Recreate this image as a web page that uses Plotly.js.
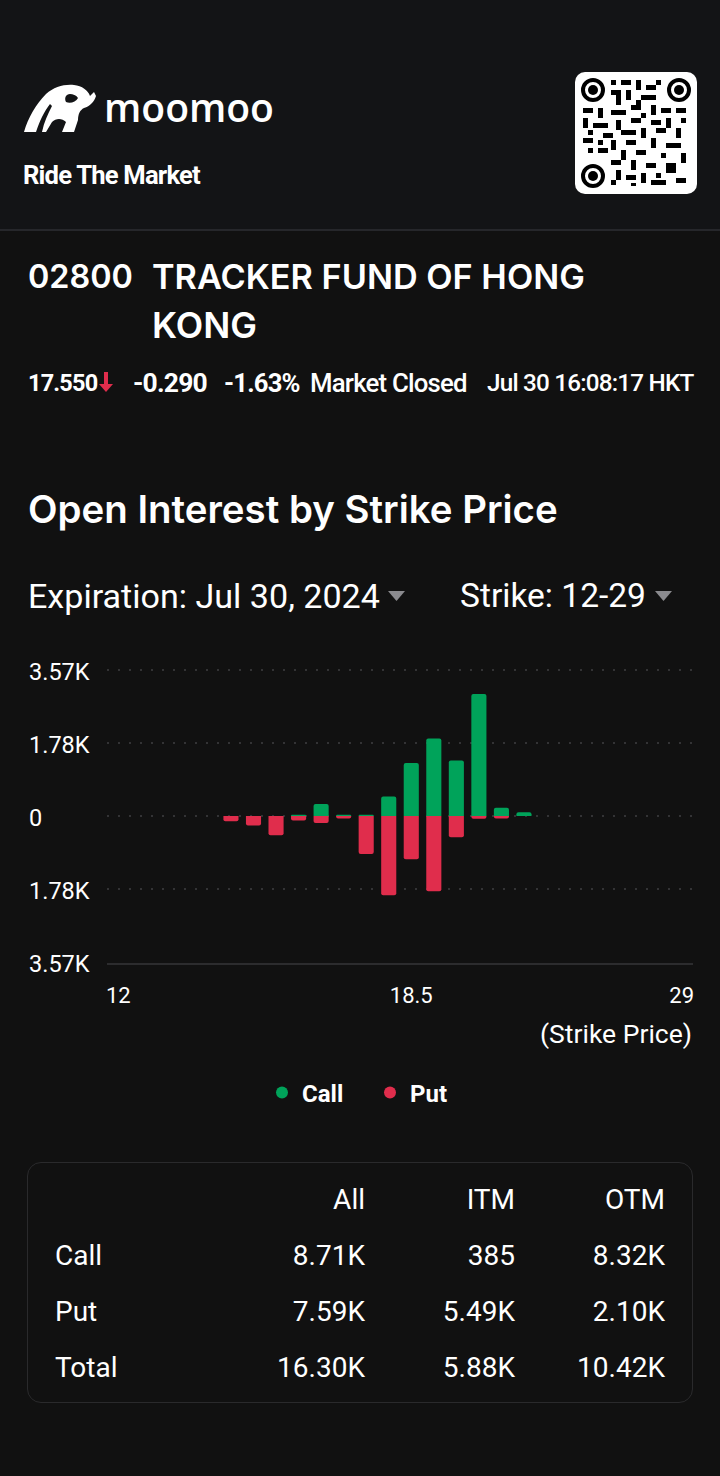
<!DOCTYPE html>
<html>
<head>
<meta charset="utf-8">
<script src="https://cdn.plot.ly/plotly-3.0.1.min.js"></script>
<style>
  html, body { margin:0; padding:0; background:#111111; }
  body { width:720px; height:1476px; position:relative; overflow:hidden; font-family: Roboto, "Noto Sans", sans-serif; color:#fff; }
  .abs { position:absolute; white-space:nowrap; }
  #hdr { position:absolute; left:0; top:0; width:720px; height:229px; background:#131416; border-bottom:2px solid #26272b; }
  #chart { position:absolute; left:0; top:640px; width:720px; height:520px; }
  .tbl { position:absolute; left:27px; top:1162px; width:664px; height:239px; border:1px solid #2a2a2c; border-radius:14px; }
</style>
</head>
<body>
<div id="hdr">
  <svg class="abs" style="left:22px;top:82px" width="76" height="52" viewBox="0 0 76 52">
    <path fill="#fff" d="M2 50 C6 36 14 22 24 12 C32 5 42 2 52 3 C60 4 66 8 68 14 L72 10 L74 14 C72 20 68 24 62 26 C58 28 56 32 56 38 L52 50 L40 50 L44 40 C40 36 34 36 30 40 L24 50 Z M48 12 C44 12 42 16 44 20 C48 22 54 20 56 16 C54 13 51 12 48 12 Z"/>
    <path fill="#131416" d="M14 50 C18 38 22 30 28 22 L30 24 C26 32 22 40 20 50 Z"/>
  </svg>
  <div class="abs fit" data-w="170" style="left:104px;top:84px;font-family:'Open Sans',sans-serif;font-weight:600;font-size:38px;line-height:46px;">moomoo</div>
  <div class="abs fit" data-w="175" style="left:23px;top:161px;font-family:Roboto,sans-serif;font-weight:700;font-size:22px;letter-spacing:-0.8px;line-height:28px;">Ride The Market</div>
  <svg class="abs" style="left:575px;top:72px" width="122" height="122" viewBox="0 0 122 122">
    <rect x="0" y="0" width="122" height="122" rx="10" fill="#fff"/>
    <g fill="none" stroke="#000" stroke-width="4">
      <circle cx="18" cy="18" r="10"/><circle cx="104" cy="18" r="10"/><circle cx="18" cy="104" r="10"/>
    </g>
    <g fill="#000">
      <circle cx="18" cy="18" r="5"/><circle cx="104" cy="18" r="5"/><circle cx="18" cy="104" r="5"/>
      <rect x="36" y="8" width="5" height="5"/><rect x="46" y="8" width="10" height="5"/><rect x="61" y="8" width="5" height="10"/><rect x="71" y="13" width="10" height="5"/><rect x="81" y="8" width="5" height="5"/>
      <rect x="36" y="18" width="10" height="5"/><rect x="51" y="18" width="5" height="10"/><rect x="66" y="23" width="15" height="5"/><rect x="41" y="23" width="5" height="5"/>
      <rect x="41" y="28" width="5" height="5"/><rect x="56" y="33" width="10" height="5"/><rect x="76" y="33" width="5" height="10"/><rect x="61" y="28" width="5" height="5"/>
      <rect x="8" y="36" width="10" height="5"/><rect x="23" y="36" width="5" height="10"/><rect x="36" y="38" width="15" height="5"/><rect x="86" y="36" width="10" height="5"/><rect x="101" y="36" width="10" height="5"/><rect x="66" y="41" width="5" height="5"/>
      <rect x="8" y="46" width="5" height="10"/><rect x="18" y="51" width="15" height="5"/><rect x="41" y="48" width="5" height="10"/><rect x="56" y="46" width="10" height="5"/><rect x="91" y="46" width="5" height="10"/><rect x="106" y="46" width="5" height="5"/><rect x="76" y="48" width="10" height="5"/>
      <rect x="28" y="61" width="10" height="5"/><rect x="46" y="58" width="15" height="5"/><rect x="66" y="56" width="5" height="10"/><rect x="81" y="56" width="10" height="5"/><rect x="101" y="56" width="5" height="10"/><rect x="13" y="58" width="5" height="5"/>
      <rect x="8" y="66" width="10" height="5"/><rect x="36" y="68" width="5" height="10"/><rect x="51" y="68" width="10" height="5"/><rect x="76" y="66" width="5" height="10"/><rect x="91" y="71" width="15" height="5"/><rect x="23" y="68" width="5" height="5"/>
      <rect x="13" y="76" width="5" height="5"/><rect x="23" y="76" width="10" height="5"/><rect x="46" y="78" width="5" height="10"/><rect x="61" y="78" width="10" height="5"/><rect x="86" y="81" width="5" height="5"/><rect x="106" y="81" width="5" height="10"/>
      <rect x="36" y="88" width="10" height="5"/><rect x="56" y="88" width="5" height="10"/><rect x="71" y="91" width="10" height="5"/><rect x="91" y="91" width="10" height="10"/>
      <rect x="41" y="98" width="5" height="10"/><rect x="51" y="103" width="10" height="5"/><rect x="66" y="101" width="5" height="10"/><rect x="81" y="101" width="5" height="5"/><rect x="101" y="106" width="10" height="5"/>
      <rect x="36" y="108" width="5" height="5"/><rect x="76" y="108" width="15" height="5"/><rect x="56" y="111" width="5" height="3"/>
    </g>
  </svg>
</div>

<div class="abs fit" data-w="105" style="left:28px;top:256px;font-family:Inter,sans-serif;font-weight:600;font-size:31px;line-height:42px;">02800</div>
<div class="abs fit" data-w="433" style="left:152px;top:256px;font-family:Inter,sans-serif;font-weight:600;font-size:31px;line-height:42px;">TRACKER FUND OF HONG</div>
<div class="abs fit" data-w="105" style="left:152px;top:304px;font-family:Inter,sans-serif;font-weight:600;font-size:31px;line-height:42px;">KONG</div>

<div class="abs fit" data-w="69" style="left:28px;top:368px;font-weight:700;font-size:22px;letter-spacing:-0.8px;line-height:30px;">17.550</div>
<svg class="abs" style="left:98px;top:372px" width="16" height="20" viewBox="0 0 16 20"><path d="M6 0 H10 V12 H15 L8 20 L1 12 H6 Z" fill="#e02d4c"/></svg>
<div class="abs fit" data-w="73" style="left:133px;top:368px;font-weight:700;font-size:22px;letter-spacing:-0.8px;line-height:30px;">-0.290</div>
<div class="abs fit" data-w="75" style="left:224px;top:368px;font-weight:700;font-size:22px;letter-spacing:-0.8px;line-height:30px;">-1.63%</div>
<div class="abs fit" data-w="155" style="left:310px;top:368px;font-weight:500;font-size:22px;letter-spacing:-0.8px;line-height:30px;">Market Closed</div>
<div class="abs fit" data-w="205" style="left:487px;top:368px;font-weight:500;font-size:22px;letter-spacing:-0.8px;line-height:30px;">Jul 30 16:08:17 HKT</div>

<div class="abs fit" data-w="530" style="left:28px;top:486px;font-family:Inter,sans-serif;font-weight:600;font-size:36px;line-height:46px;">Open Interest by Strike Price</div>

<div class="abs fit" data-w="352" style="left:28px;top:576px;font-family:Roboto,sans-serif;font-weight:400;font-size:32px;line-height:40px;">Expiration: Jul 30, 2024</div>
<svg class="abs" style="left:388px;top:590px" width="18" height="12"><path d="M0 1 L17 1 L8.5 11 Z" fill="#8a8a8e"/></svg>
<div class="abs fit" data-w="186" style="left:460px;top:576px;font-family:Roboto,sans-serif;font-weight:400;font-size:32px;line-height:40px;">Strike: 12-29</div>
<svg class="abs" style="left:655px;top:590px" width="18" height="12"><path d="M0 1 L17 1 L8.5 11 Z" fill="#8a8a8e"/></svg>

<div id="chart"></div>

<div class="tbl"></div>
<div id="tablebody"></div>

<script>
// ---- data ----
const strikes = ['12','12.5','13','13.5','14','14.5','15','15.5','16','16.5','17','17.5','18','18.5','19','19.5','20','21','22','23','24','25','26','27','28','29'];
const callOI  = [null,null,null,null,null,null,null,null,30,295,30,30,480,1300,1900,1360,2990,200,90,null,null,null,null,null,null,null];
const putOI   = [null,null,null,null,null,130,230,470,110,170,60,930,1940,1060,1840,520,70,60,null,null,null,null,null,null,null,null];
const yTickVals = [3570, 1785, 0, -1785, -3570];
const yTickText = ['3.57K','1.78K','0','1.78K','3.57K'];
const xTickVals = ['12','18.5','29'];

const tableCols = ['All','ITM','OTM'];
const tableRows = ['Call','Put','Total'];
const tableVals = [['8.71K','385','8.32K'],['7.59K','5.49K','2.10K'],['16.30K','5.88K','10.42K']];

// fit header text widths
document.querySelectorAll('.fit').forEach(el => {
  const target = parseFloat(el.dataset.w);
  const w = el.getBoundingClientRect().width;
  const fs = parseFloat(getComputedStyle(el).fontSize);
  if (w > 0) el.style.fontSize = (fs * target / w).toFixed(2) + 'px';
});

const GREEN = '#00a35a', RED = '#e02d4c';

const traces = [
  {type:'bar', x:strikes, y:callOI, marker:{color:GREEN, cornerradius:2}, showlegend:false, hoverinfo:'skip'},
  {type:'bar', x:strikes, y:putOI.map(v => v==null ? null : -v), marker:{color:RED, cornerradius:2}, showlegend:false, hoverinfo:'skip'},
  {type:'scatter', mode:'markers', x:[null], y:[null], name:'Call', marker:{color:GREEN, size:14, symbol:'circle'}},
  {type:'scatter', mode:'markers', x:[null], y:[null], name:'Put', marker:{color:RED, size:14, symbol:'circle'}}
];

const DIV_H = 520, PLOT_TOP = 29, PLOT_H = 294;
const PLOT_BOTTOM_ABS = 640 + PLOT_TOP + PLOT_H;
const yMin = Math.min(...yTickVals);
const gridVals = yTickVals.filter(v => v > yMin);   // bottom is the solid axis line
const annotations = yTickVals.map((v,i) => ({
  xref:'paper', yref:'y', x:-79/586, y:v, xanchor:'left', yanchor:'middle', yshift:-2, borderpad:0,
  text:yTickText[i], showarrow:false, font:{family:'Roboto, sans-serif', size:23.5, color:'#ffffff'}
}));
annotations.push({xref:'paper', yref:'paper', x:1, y:-(1033-PLOT_BOTTOM_ABS)/PLOT_H, xanchor:'right', yanchor:'middle', borderpad:0,
  text:'(Strike Price)', showarrow:false, font:{family:'Roboto, sans-serif', size:26.5, color:'#ffffff'}});

const layout = {
  width:720, height:DIV_H,
  margin:{l:107, r:27, t:PLOT_TOP, b:DIV_H-PLOT_TOP-PLOT_H},
  paper_bgcolor:'#111111', plot_bgcolor:'#111111',
  barmode:'relative', bargap:0.33,
  showlegend:true,
  legend:{orientation:'h', x:(262-107)/586, xanchor:'left', y:-(1093-PLOT_BOTTOM_ABS)/PLOT_H, yanchor:'middle',
          font:{family:'Roboto, sans-serif', size:24, color:'#ffffff', weight:700}, itemsizing:'constant',
          entrywidth:63, entrywidthmode:'pixels', bgcolor:'rgba(0,0,0,0)', borderwidth:0},
  xaxis:{type:'category', categoryorder:'array', categoryarray:strikes, tickvals:xTickVals, ticktext:xTickVals,
         showgrid:false, zeroline:false, showline:true, linecolor:'#2c2c2e', linewidth:2, ticks:'',
         ticklabelstandoff:12, tickfont:{family:'Roboto, sans-serif', size:22, color:'#ffffff'}, fixedrange:true},
  yaxis:{range:[-3600, 3600], tickvals:gridVals, showticklabels:false, showgrid:true,
         gridcolor:'#333335', gridwidth:2, griddash:'2px,9px', zeroline:false, showline:false, fixedrange:true},
  annotations: annotations,
  font:{family:'Roboto, sans-serif', color:'#ffffff'}
};

Plotly.newPlot('chart', traces, layout, {staticPlot:true, displayModeBar:false});

// ---- summary table ----
const tb = document.getElementById('tablebody');
const colRight = [365, 515, 665];
const rowY = [1200, 1256, 1312, 1368];
const cellStyle = 'font-size:28px;line-height:34px;font-family:Roboto,sans-serif;';
tableCols.forEach((c,i) => {
  const d = document.createElement('div');
  d.className = 'abs';
  d.style.cssText = `right:${720-colRight[i]}px;top:${rowY[0]-17}px;` + cellStyle;
  d.textContent = c; tb.appendChild(d);
});
tableRows.forEach((r,j) => {
  const l = document.createElement('div');
  l.className = 'abs';
  l.style.cssText = `left:55px;top:${rowY[j+1]-17}px;` + cellStyle;
  l.textContent = r; tb.appendChild(l);
  tableVals[j].forEach((v,i) => {
    const d = document.createElement('div');
    d.className = 'abs';
    d.style.cssText = `right:${720-colRight[i]}px;top:${rowY[j+1]-17}px;` + cellStyle;
    d.textContent = v; tb.appendChild(d);
  });
});
</script>
</body>
</html>
